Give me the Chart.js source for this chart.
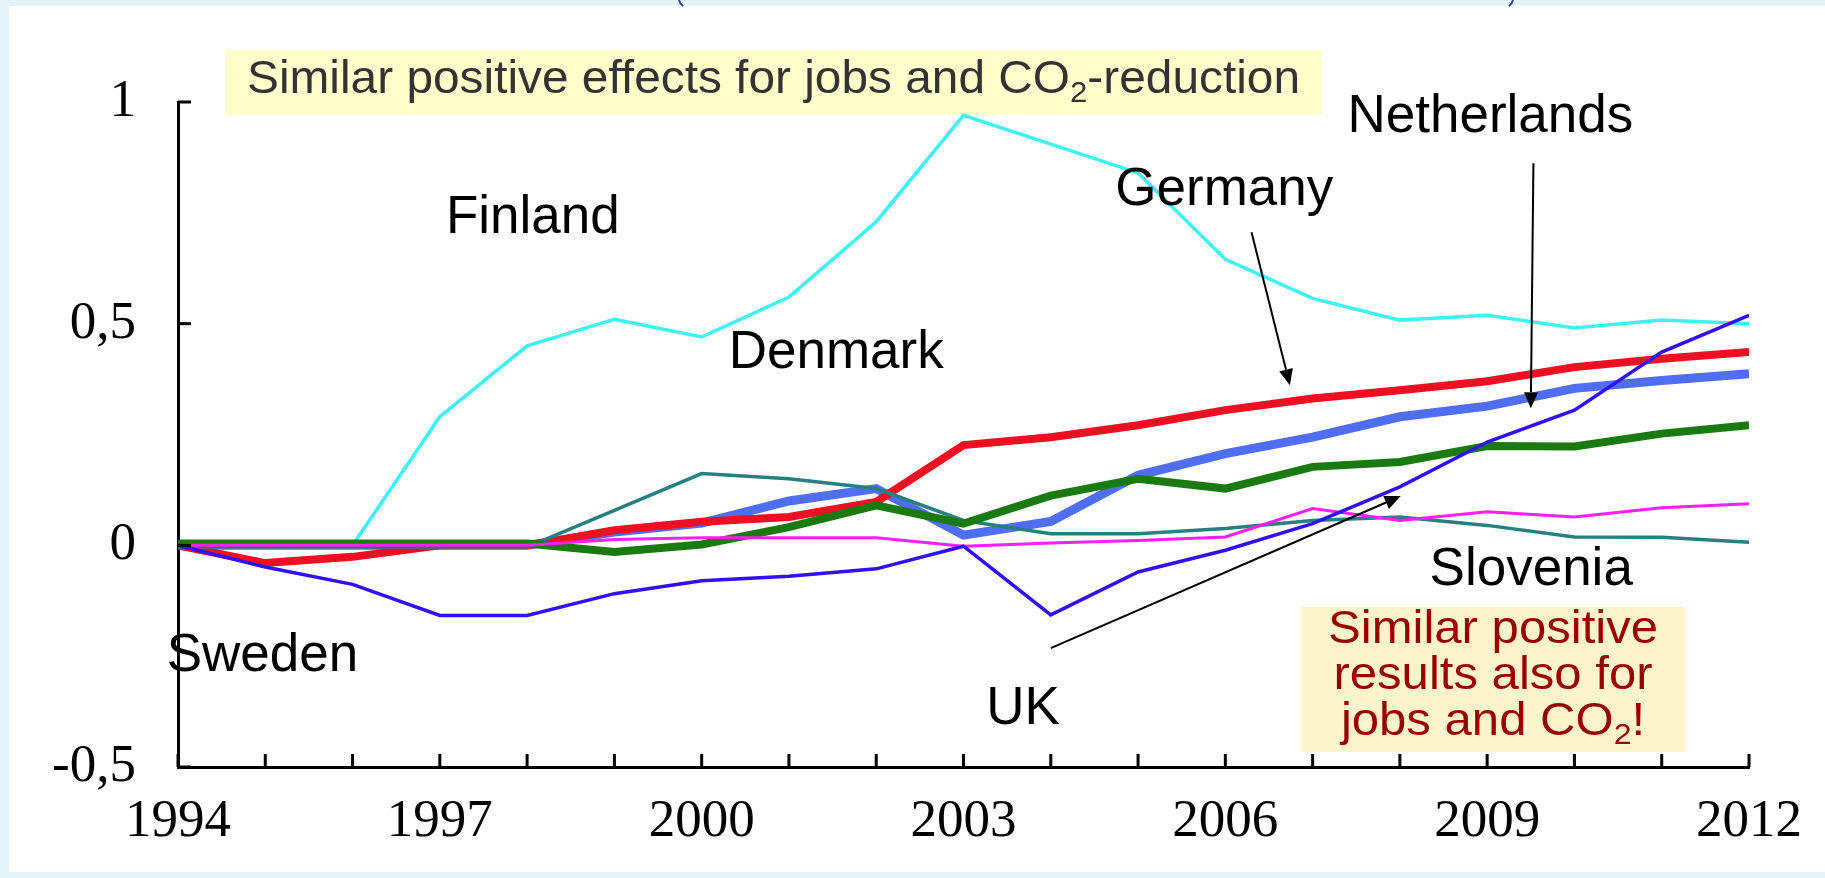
<!DOCTYPE html>
<html>
<head>
<meta charset="utf-8">
<script src="https://cdn.jsdelivr.net/npm/chart.js@4.4.1/dist/chart.umd.min.js"></script>
<style>
  html, body { margin: 0; padding: 0; background: #e4f3f5; }
  #wrap { position: relative; width: 1825px; height: 878px; }
  canvas { display: block; }
</style>
</head>
<body>
<div id="wrap"><canvas id="c" width="1825" height="878"></canvas></div>
<script>
// ---- data ----
const years = [1994,1995,1996,1997,1998,1999,2000,2001,2002,2003,2004,2005,2006,2007,2008,2009,2010,2011,2012];
const finland     = [0,0,0,0.29,0.45,0.51,0.47,0.56,0.73,0.97,0.905,0.84,0.645,0.557,0.508,0.519,0.49,0.508,0.50];
const germany     = [0,-0.04,-0.026,0,0,0.034,0.053,0.064,0.098,0.226,0.244,0.271,0.305,0.331,0.35,0.37,0.402,0.421,0.436];
const netherlands = [0,0,0,0,0,0.03,0.05,0.10,0.128,0.023,0.054,0.158,0.207,0.244,0.29,0.314,0.354,0.372,0.387];
const denmark     = [0.004,0.004,0.004,0.004,0.004,-0.015,0.002,0.041,0.09,0.049,0.112,0.15,0.128,0.177,0.188,0.224,0.223,0.252,0.271];
const sweden      = [-0.004,-0.004,-0.004,-0.004,-0.004,0.079,0.162,0.15,0.128,0.056,0.026,0.026,0.038,0.056,0.064,0.045,0.019,0.018,0.007];
const slovenia    = [0,0,0,0,0,0.013,0.017,0.017,0.017,-0.002,0.005,0.011,0.019,0.083,0.056,0.076,0.064,0.085,0.094];
const uk          = [0,-0.049,-0.088,-0.158,-0.158,-0.109,-0.08,-0.07,-0.053,-0.002,-0.157,-0.06,-0.011,0.049,0.132,0.233,0.305,0.436,0.519];
const xTickLabels = [1994,1997,2000,2003,2006,2009,2012];
const yTicks = [-0.5,0,0.5,1];

// country labels: [text, year, value] (left / baseline anchor in data coordinates)
const countryLabels = [
  ["Finland", 1997.07, 0.704],
  ["Denmark", 2000.31, 0.399],
  ["Germany", 2004.74, 0.767],
  ["Netherlands", 2007.40, 0.932],
  ["UK", 2003.26, -0.402],
  ["Slovenia", 2008.34, -0.090],
  ["Sweden", 1993.87, -0.284]
];
// arrows: [fromYear, fromVal, toYear, toVal]
const arrows = [
  [2006.30, 0.706, 2006.74, 0.361],
  [2009.53, 0.862, 2009.50, 0.309],
  [2004.00, -0.232, 2008.01, 0.111]
];

function pts(arr){ return arr.map((v,i)=>({x: years[i], y: v})); }

const ds = (label, data, color, width, order) => ({
  label, data: pts(data), borderColor: color, backgroundColor: color,
  borderWidth: width, pointRadius: 0, tension: 0, fill: false, order
});

const bgPlugin = {
  id: 'bg',
  beforeDraw(chart) {
    const ctx = chart.ctx;
    ctx.save();
    ctx.fillStyle = '#e4f3f5';
    ctx.fillRect(0, 0, 1825, 878);
    ctx.fillStyle = '#ffffff';
    ctx.fillRect(9, 6, 1816, 866);
    ctx.strokeStyle = '#3b3ba8';
    ctx.lineWidth = 2;
    ctx.beginPath(); ctx.moveTo(679, 0); ctx.quadraticCurveTo(680, 4, 683, 6); ctx.stroke();
    ctx.beginPath(); ctx.moveTo(1513, 0); ctx.quadraticCurveTo(1512, 4, 1509, 6); ctx.stroke();
    ctx.fillStyle = '#ffffcc';
    ctx.fillRect(225, 50, 1097, 65);
    ctx.fillStyle = '#fdf4cb';
    ctx.fillRect(1301, 607, 384, 145);
    ctx.restore();
  }
};

function partsWidth(ctx, parts, size, family) {
  let w = 0;
  for (const [t, sub] of parts) {
    ctx.font = (sub ? Math.round(size*0.66) : size) + 'px ' + family;
    w += ctx.measureText(t).width;
  }
  return w;
}
function drawParts(ctx, parts, x, y, size, family, sx) {
  ctx.save();
  ctx.translate(x, y);
  ctx.scale(sx, 1);
  let cx = 0;
  for (const [t, sub] of parts) {
    ctx.font = (sub ? Math.round(size*0.66) : size) + 'px ' + family;
    ctx.fillText(t, cx, sub ? size*0.2 : 0);
    cx += ctx.measureText(t).width;
  }
  ctx.restore();
}

const annotPlugin = {
  id: 'annot',
  afterDraw(chart) {
    const ctx = chart.ctx;
    const xs = chart.scales.x, ys = chart.scales.y;
    const fam = '"Liberation Sans", Arial, sans-serif';
    ctx.save();
    ctx.strokeStyle = '#000';
    ctx.lineWidth = 3;
    const b = ys.getPixelForValue(-0.5), l = xs.getPixelForValue(1994);
    years.forEach(yr => {
      const px = xs.getPixelForValue(yr);
      ctx.beginPath(); ctx.moveTo(px, b); ctx.lineTo(px, b - 13); ctx.stroke();
    });
    yTicks.forEach(v => {
      const py = ys.getPixelForValue(v);
      ctx.beginPath(); ctx.moveTo(l, py); ctx.lineTo(l + 13, py); ctx.stroke();
    });
    ctx.fillStyle = '#000';
    ctx.textBaseline = 'alphabetic';
    ctx.textAlign = 'left';
    ctx.font = '53px ' + fam;
    countryLabels.forEach(([t, yr, v]) => {
      ctx.fillText(t, xs.getPixelForValue(yr), ys.getPixelForValue(v));
    });
    ctx.strokeStyle = '#000'; ctx.fillStyle = '#000'; ctx.lineWidth = 2;
    arrows.forEach(([x0, y0, x1, y1]) => {
      const ax = xs.getPixelForValue(x0), ay = ys.getPixelForValue(y0);
      const bx = xs.getPixelForValue(x1), by = ys.getPixelForValue(y1);
      const ang = Math.atan2(by - ay, bx - ax);
      const hl = 16, hw = 7;
      const hx = bx - hl*Math.cos(ang), hy = by - hl*Math.sin(ang);
      ctx.beginPath(); ctx.moveTo(ax, ay); ctx.lineTo(hx, hy); ctx.stroke();
      ctx.beginPath();
      ctx.moveTo(bx, by);
      ctx.lineTo(hx + hw*Math.sin(ang), hy - hw*Math.cos(ang));
      ctx.lineTo(hx - hw*Math.sin(ang), hy + hw*Math.cos(ang));
      ctx.closePath(); ctx.fill();
    });
    // title box text
    ctx.fillStyle = '#333333';
    const title = [["Similar positive effects for jobs and CO", false], ["2", true], ["-reduction", false]];
    const tw = partsWidth(ctx, title, 46, fam);
    drawParts(ctx, title, 247, 93, 46, fam, 1053 / tw);
    // note box text
    ctx.fillStyle = '#990000';
    const cx = 1493;
    const lines = [
      [["Similar positive", false]],
      [["results also for", false]],
      [["jobs and CO", false], ["2", true], ["!", false]]
    ];
    const bases = [643, 689, 735];
    const sx = 330 / partsWidth(ctx, lines[0], 46, fam);
    lines.forEach((parts, i) => {
      const w = partsWidth(ctx, parts, 46, fam) * sx;
      drawParts(ctx, parts, cx - w/2, bases[i], 46, fam, sx);
    });
    ctx.restore();
  }
};

new Chart(document.getElementById('c'), {
  type: 'line',
  data: {
    datasets: [
      ds('UK', uk, '#3010f4', 3.5, 1),
      ds('Slovenia', slovenia, '#ff1cff', 3, 2),
      ds('Denmark', denmark, '#1b7a0f', 8, 3),
      ds('Sweden', sweden, '#268080', 3.5, 4),
      ds('Germany', germany, '#ee1022', 8, 5),
      ds('Netherlands', netherlands, '#4f6ef3', 9, 6),
      ds('Finland', finland, '#3ff2f2', 3.5, 7)
    ]
  },
  options: {
    responsive: false,
    animation: false,
    devicePixelRatio: 1,
    layout: { padding: { left: 0, top: 102, right: 72, bottom: 0 } },
    plugins: { legend: { display: false }, tooltip: { enabled: false }, title: { display: false } },
    scales: {
      x: {
        type: 'linear', min: 1994, max: 2012,
        afterFit(s) { s.height = 111; },
        afterBuildTicks(s) { s.ticks = xTickLabels.map(v => ({ value: v })); },
        grid: { display: true, drawOnChartArea: false, drawTicks: false, color: 'rgba(0,0,0,0)' },
        border: { display: true, color: '#000', width: 3 },
        ticks: {
          padding: 23, maxRotation: 0, autoSkip: false,
          color: '#000',
          font: { family: '"Liberation Serif", "Times New Roman", serif', size: 53 },
          callback: v => String(v)
        }
      },
      y: {
        min: -0.5, max: 1,
        afterFit(s) { s.width = 178; },
        afterBuildTicks(s) { s.ticks = yTicks.map(v => ({ value: v })); },
        grid: { display: true, drawOnChartArea: false, drawTicks: false, color: 'rgba(0,0,0,0)' },
        border: { display: true, color: '#000', width: 3 },
        ticks: {
          padding: 42,
          color: '#000',
          font: { family: '"Liberation Serif", "Times New Roman", serif', size: 53 },
          callback: v => String(v).replace('.', ',')
        }
      }
    }
  },
  plugins: [bgPlugin, annotPlugin]
});
</script>
</body>
</html>
